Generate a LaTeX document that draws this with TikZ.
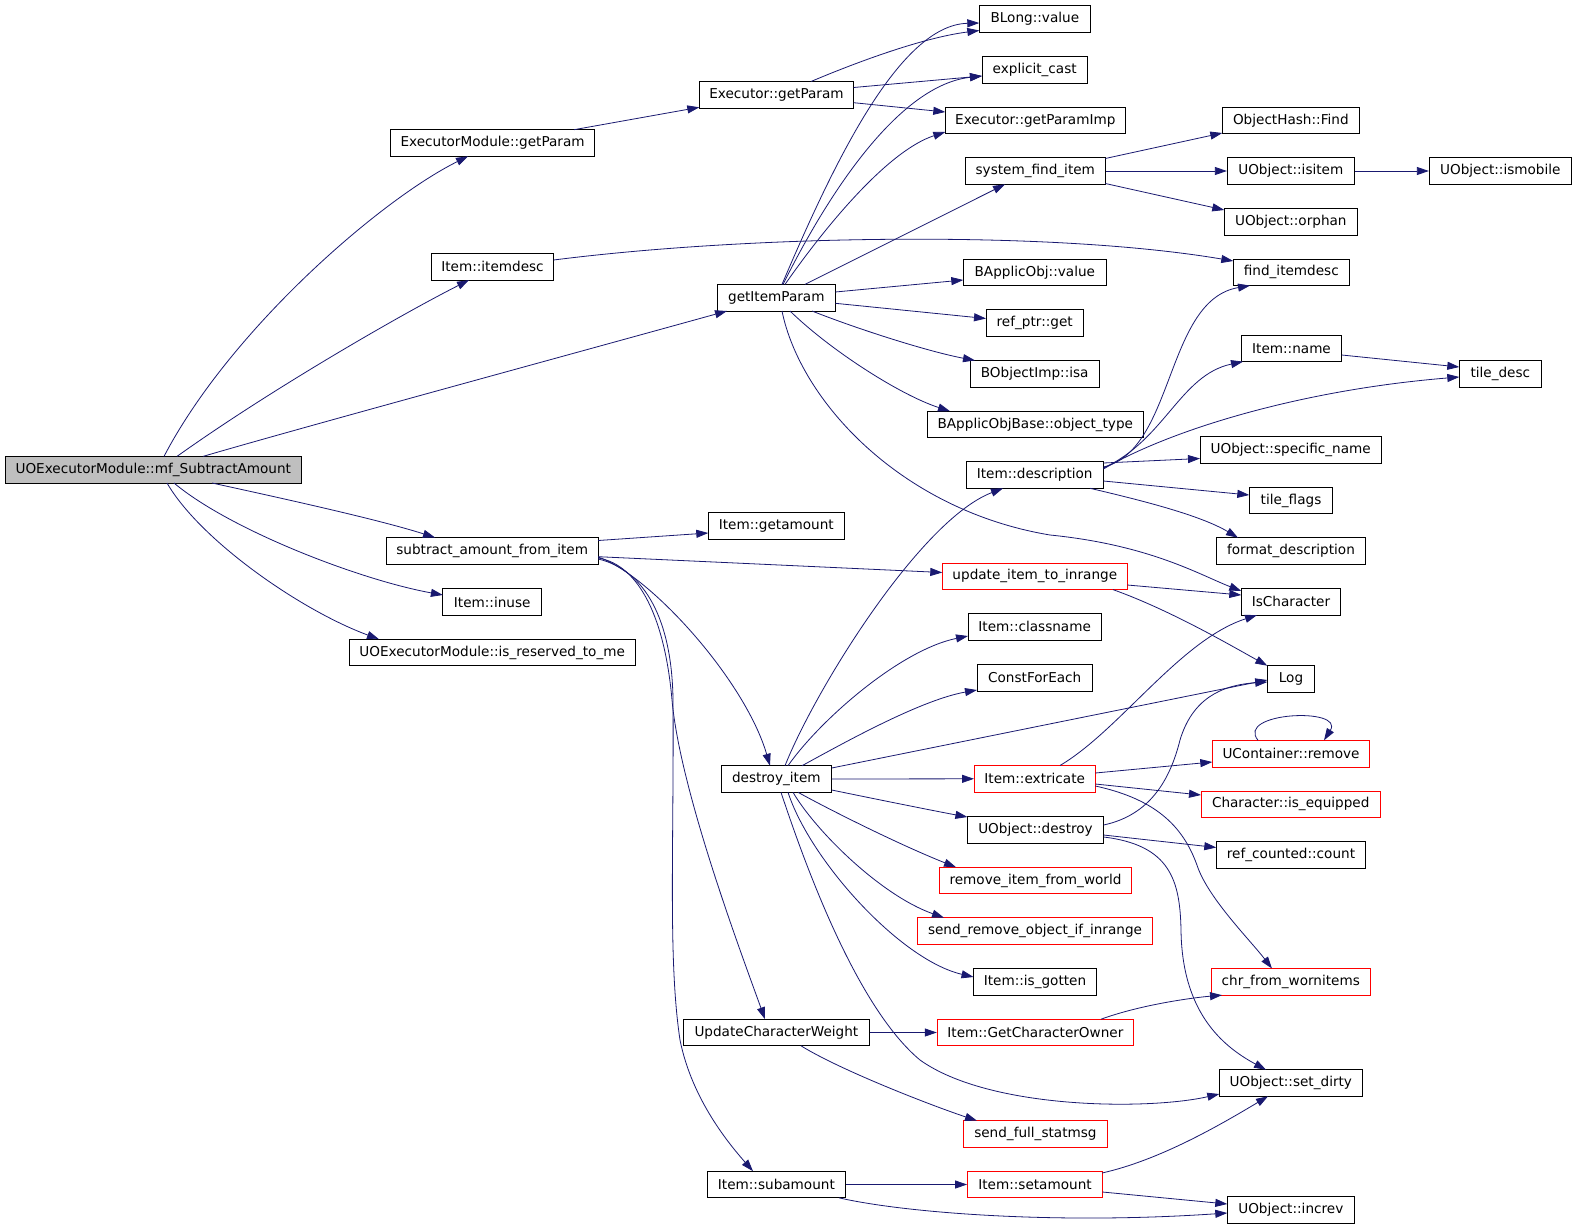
\documentclass[tikz,border=0pt]{standalone}
\usepackage{fontspec}
\setmainfont{DejaVu Sans}
\usetikzlibrary{arrows.meta}
\definecolor{navy}{HTML}{191970}
\definecolor{gfill}{HTML}{BFBFBF}
\begin{document}
\begin{tikzpicture}[x=1pt,y=-1pt,
  box/.style={draw=black,line width=0.9pt,minimum height=26.6pt,inner sep=0pt,font=\fontsize{13.6}{15}\selectfont},
  rbox/.style={box,draw=red},
  call/.style={draw=navy,line width=0.8pt,-{Triangle[length=12pt,width=8pt]}}]
\useasboundingbox (0,0) rectangle (1576,1228);
\fill[white] (0,0) rectangle (1576,1228);
% nodes
\node[box,minimum width=296pt,fill=gfill] (mf) at (153.3,469.7) {UOExecutorModule::mf\_SubtractAmount};
\node[box,minimum width=204pt] (emgp) at (492.6,143) {ExecutorModule::getParam};
\node[box,minimum width=122.3pt] (itemdesc) at (492.5,266.8) {Item::itemdesc};
\node[box,minimum width=118pt] (gip) at (776.3,297.7) {getItemParam};
\node[box,minimum width=212pt] (sub) at (492.2,550.8) {subtract\_amount\_from\_item};
\node[box,minimum width=98.6pt] (inuse) at (492.2,602) {Item::inuse};
\node[box,minimum width=286.2pt] (resv) at (492.2,652.5) {UOExecutorModule::is\_reserved\_to\_me};
\node[box,minimum width=154.4pt] (egp) at (776.5,94.8) {Executor::getParam};
\node[box,minimum width=111pt] (blong) at (1034.8,19) {BLong::value};
\node[box,minimum width=105.3pt] (ecast) at (1034.7,70) {explicit\_cast};
\node[box,minimum width=180pt] (egpi) at (1035.3,120.5) {Executor::getParamImp};
\node[box,minimum width=140pt] (sfi) at (1035.3,171) {system\_find\_item};
\node[box,minimum width=137pt] (ohf) at (1290.8,120.5) {ObjectHash::Find};
\node[box,minimum width=127pt] (isitem) at (1290.8,171) {UObject::isitem};
\node[box,minimum width=142pt] (ismob) at (1500.3,171) {UObject::ismobile};
\node[box,minimum width=133pt] (orphan) at (1290.8,222) {UObject::orphan};
\node[box,minimum width=116pt] (fid) at (1291.3,272.3) {find\_itemdesc};
\node[box,minimum width=143pt] (bav) at (1034.8,272.3) {BApplicObj::value};
\node[box,minimum width=97.3pt] (rpg) at (1034.7,322.8) {ref\_ptr::get};
\node[box,minimum width=129pt] (boi) at (1034.7,373.7) {BObjectImp::isa};
\node[box,minimum width=216pt] (bot) at (1035.3,424.5) {BApplicObjBase::object\_type};
\node[box,minimum width=100.4pt] (iname) at (1291.5,348.3) {Item::name};
\node[box,minimum width=82pt] (tdesc) at (1500.3,374) {tile\_desc};
\node[box,minimum width=137.3pt] (desc) at (1034.7,475) {Item::description};
\node[box,minimum width=181.3pt] (spec) at (1290.7,450) {UObject::specific\_name};
\node[box,minimum width=83.4pt] (tflags) at (1291,500.5) {tile\_flags};
\node[box,minimum width=149.4pt] (fdesc) at (1291,551) {format\_description};
\node[box,minimum width=136pt] (getam) at (776.3,525.8) {Item::getamount};
\node[rbox,minimum width=185pt] (uiti) at (1034.8,576.3) {update\_item\_to\_inrange};
\node[box,minimum width=99.4pt] (ischar) at (1291,601.8) {IsCharacter};
\node[box,minimum width=133.3pt] (cname) at (1034.7,626.8) {Item::classname};
\node[box,minimum width=115.3pt] (cfe) at (1034.7,677.7) {ConstForEach};
\node[box,minimum width=47.4pt] (log) at (1291,679) {Log};
\node[rbox,minimum width=157.4pt] (ucr) at (1291,753.8) {UContainer::remove};
\node[rbox,minimum width=121.3pt] (extr) at (1034.7,778.8) {Item::extricate};
\node[box,minimum width=110.7pt] (ditem) at (776.3,779) {destroy\_item};
\node[rbox,minimum width=179.3pt] (iseq) at (1290.7,804.3) {Character::is\_equipped};
\node[box,minimum width=136.2pt] (odes) at (1035.5,830) {UObject::destroy};
\node[box,minimum width=149.4pt] (rcc) at (1291,855) {ref\_counted::count};
\node[rbox,minimum width=192pt] (rifw) at (1035.5,880.5) {remove\_item\_from\_world};
\node[rbox,minimum width=235.3pt] (sroi) at (1035,931) {send\_remove\_object\_if\_inrange};
\node[box,minimum width=123pt] (igot) at (1035,982) {Item::is\_gotten};
\node[rbox,minimum width=159pt] (cfw) at (1290.8,981.8) {chr\_from\_wornitems};
\node[box,minimum width=186pt] (ucw) at (776.4,1032.5) {UpdateCharacterWeight};
\node[rbox,minimum width=196.3pt] (gco) at (1035.4,1032.5) {Item::GetCharacterOwner};
\node[box,minimum width=143pt] (sdirty) at (1290.8,1083) {UObject::set\_dirty};
\node[rbox,minimum width=144.3pt] (sfs) at (1035.4,1134) {send\_full\_statmsg};
\node[box,minimum width=137.8pt] (subam) at (776.4,1184.5) {Item::subamount};
\node[rbox,minimum width=135pt] (setam) at (1035,1184.5) {Item::setamount};
\node[box,minimum width=127pt] (increv) at (1290.8,1210) {UObject::increv};
% edges
\draw[call] ([shift={(10.7,-13.3)}]mf.center) .. controls (230,330) and (380,200) .. ([shift={(-24.6,13.3)}]emgp.center);
\draw[call] ([shift={(23.7,-13.3)}]mf.center) .. controls (270,390) and (400,315) .. ([shift={(-23.5,13.3)}]itemdesc.center);
\draw[call] ([shift={(49.7,-13.3)}]mf.center) .. controls (300,428) and (550,360) .. ([shift={(-49.3,13.3)}]gip.center);
\draw[call] ([shift={(58.7,13.3)}]mf.center) .. controls (290,500) and (380,520) .. ([shift={(-57.2,-13.3)}]sub.center);
\draw[call] ([shift={(20.7,13.3)}]mf.center) .. controls (230,530) and (360,580) .. ([shift={(-49.3,-7)}]inuse.center);
\draw[call] ([shift={(13.7,13.3)}]mf.center) .. controls (200,540) and (300,610) .. ([shift={(-113.2,-13.3)}]resv.center);
\draw[call] ([shift={(81.4,-13.3)}]emgp.center) -- ([shift={(-77.2,12.5)}]egp.center);
\draw[call] ([shift={(34.5,-13.3)}]egp.center) .. controls (850,65) and (920,38) .. ([shift={(-55.5,11.5)}]blong.center);
\draw[call] ([shift={(77.2,-7.3)}]egp.center) -- ([shift={(-52.7,6)}]ecast.center);
\draw[call] ([shift={(77.2,7.9)}]egp.center) -- ([shift={(-90,-8.5)}]egpi.center);
\draw[call] ([shift={(5.7,-13.3)}]gip.center) .. controls (835,160) and (900,25) .. ([shift={(-55.5,4)}]blong.center);
\draw[call] ([shift={(6.7,-13.3)}]gip.center) .. controls (830,190) and (900,85) .. ([shift={(-52.7,6)}]ecast.center);
\draw[call] ([shift={(8.7,-13.3)}]gip.center) .. controls (830,220) and (890,150) .. ([shift={(-90,11.5)}]egpi.center);
\draw[call] ([shift={(28.7,-13.3)}]gip.center) -- ([shift={(-30.3,13.3)}]sfi.center);
\draw[call] ([shift={(59,-5.7)}]gip.center) -- ([shift={(-71.5,7.7)}]bav.center);
\draw[call] ([shift={(59,5.6)}]gip.center) -- ([shift={(-48.7,-4.3)}]rpg.center);
\draw[call] ([shift={(35.7,13.3)}]gip.center) .. controls (860,330) and (930,352) .. ([shift={(-59.7,-13.3)}]boi.center);
\draw[call] ([shift={(13.7,13.3)}]gip.center) .. controls (830,350) and (900,395) .. ([shift={(-85.3,-13.3)}]bot.center);
\draw[call] ([shift={(5.7,13.3)}]gip.center) .. controls (800,400) and (900,510) .. (1050,535) .. controls (1150,545) and (1200,575) .. ([shift={(-49.7,-10.8)}]ischar.center);
\draw[call] ([shift={(61.2,-6.8)}]itemdesc.center) .. controls (750,235) and (1050,230) .. ([shift={(-58,-11.3)}]fid.center);
\draw[call] ([shift={(106,-10.3)}]sub.center) -- ([shift={(-68,7.2)}]getam.center);
\draw[call] ([shift={(106,5.9)}]sub.center) -- ([shift={(-92.5,-3.8)}]uiti.center);
\draw[call] ([shift={(106,6.2)}]sub.center) .. controls (650,575) and (745,680) .. ([shift={(-6.3,-13.3)}]ditem.center);
\draw[call] ([shift={(106,7.2)}]sub.center) .. controls (640,565) and (665,620) .. (672,700) .. controls (680,790) and (740,950) .. ([shift={(-11.4,-13.3)}]ucw.center);
\draw[call] ([shift={(106,8.2)}]sub.center) .. controls (645,570) and (672,620) .. (673,700) .. controls (674,850) and (668,960) .. (680,1040) .. controls (692,1100) and (730,1145) .. ([shift={(-23.4,-13.3)}]subam.center);
\draw[call] ([shift={(8.7,-13.3)}]ditem.center) .. controls (815,690) and (920,520) .. ([shift={(-31.7,13.3)}]desc.center);
\draw[call] ([shift={(11.7,-13.3)}]ditem.center) .. controls (820,720) and (900,650) .. ([shift={(-66.7,9.2)}]cname.center);
\draw[call] ([shift={(25.7,-13.3)}]ditem.center) .. controls (840,745) and (920,700) .. ([shift={(-57.7,12.3)}]cfe.center);
\draw[call] ([shift={(55.4,-11)}]ditem.center) -- ([shift={(-23.7,1)}]log.center);
\draw[call] ([shift={(55.4,0)}]ditem.center) -- ([shift={(-60.7,0)}]extr.center);
\draw[call] ([shift={(55.4,11)}]ditem.center) .. controls (880,800) and (940,812) .. ([shift={(-68.1,-13)}]odes.center);
\draw[call] ([shift={(21.7,13.3)}]ditem.center) .. controls (830,810) and (900,845) .. ([shift={(-79.5,-13.3)}]rifw.center);
\draw[call] ([shift={(16.7,13.3)}]ditem.center) .. controls (815,830) and (880,895) .. ([shift={(-91,-13.3)}]sroi.center);
\draw[call] ([shift={(11.7,13.3)}]ditem.center) .. controls (810,860) and (900,960) .. ([shift={(-61.5,-5)}]igot.center);
\draw[call] ([shift={(4.7,13.3)}]ditem.center) .. controls (810,880) and (860,1010) .. (920,1060) .. controls (990,1110) and (1150,1110) .. ([shift={(-71.5,11)}]sdirty.center);
\draw[call] ([shift={(68.7,-8)}]desc.center) .. controls (1175,450) and (1165,300) .. ([shift={(-41.3,13.3)}]fid.center);
\draw[call] ([shift={(68.7,-7)}]desc.center) .. controls (1165,440) and (1180,375) .. ([shift={(-48.5,13.3)}]iname.center);
\draw[call] ([shift={(68.7,-6)}]desc.center) .. controls (1170,430) and (1300,390) .. ([shift={(-41,3)}]tdesc.center);
\draw[call] ([shift={(68.7,-12)}]desc.center) -- ([shift={(-90.7,8.5)}]spec.center);
\draw[call] ([shift={(68.7,6)}]desc.center) -- ([shift={(-41.7,-5.5)}]tflags.center);
\draw[call] ([shift={(55.3,13.3)}]desc.center) .. controls (1140,500) and (1200,515) .. ([shift={(-53,-13.3)}]fdesc.center);
\draw[call] ([shift={(92.5,8.7)}]uiti.center) -- ([shift={(-49.7,-6.8)}]ischar.center);
\draw[call] ([shift={(78.2,13.3)}]uiti.center) .. controls (1170,610) and (1230,645) .. ([shift={(-23.7,-13.3)}]log.center);
\draw[call] ([shift={(25.3,-13.3)}]extr.center) .. controls (1120,730) and (1180,640) .. ([shift={(-34,13.3)}]ischar.center);
\draw[call] ([shift={(60.6,-5.8)}]extr.center) -- ([shift={(-78.7,8.2)}]ucr.center);
\draw[call] ([shift={(60.6,5.2)}]extr.center) -- ([shift={(-89.7,-9.3)}]iseq.center);
\draw[call] ([shift={(60.6,7.2)}]extr.center) .. controls (1160,800) and (1185,830) .. (1198,868) .. controls (1210,900) and (1250,940) .. ([shift={(-18.8,-13.3)}]cfw.center);
\draw[call] ([shift={(68.1,-5)}]odes.center) .. controls (1150,815) and (1170,780) .. (1180,740) .. controls (1192,700) and (1220,685) .. ([shift={(-23.7,3)}]log.center);
\draw[call] ([shift={(68.1,5)}]odes.center) -- ([shift={(-74.7,-7.5)}]rcc.center);
\draw[call] ([shift={(68.1,7)}]odes.center) .. controls (1170,845) and (1180,880) .. (1181,930) .. controls (1182,1010) and (1220,1045) .. ([shift={(-24.8,-13.3)}]sdirty.center);
\draw[call] ([shift={(65.6,-13.3)}]gco.center) .. controls (1140,1005) and (1190,998) .. ([shift={(-68.8,13.3)}]cfw.center);
\draw[call] (ucw.east) -- (gco.west);
\draw[call] ([shift={(24.6,13.3)}]ucw.center) .. controls (840,1070) and (930,1105) .. ([shift={(-58.4,-13.3)}]sfs.center);
\draw[call] (subam.east) -- (setam.west);
\draw[call] ([shift={(62.6,13.3)}]subam.center) .. controls (900,1212) and (1050,1225) .. ([shift={(-63.5,3)}]increv.center);
\draw[call] ([shift={(67,-11.5)}]setam.center) .. controls (1160,1160) and (1220,1125) .. ([shift={(-22.8,13.3)}]sdirty.center);
\draw[call] ([shift={(67.5,7.5)}]setam.center) -- ([shift={(-63.5,-6)}]increv.center);
\draw[call] ([shift={(70,-12.5)}]sfi.center) -- ([shift={(-68.5,12.5)}]ohf.center);
\draw[call] (sfi.east) -- (isitem.west);
\draw[call] ([shift={(70,12.5)}]sfi.center) -- ([shift={(-66.5,-12)}]orphan.center);
\draw[call] (isitem.east) -- (ismob.west);
\draw[call] ([shift={(50.2,6.7)}]iname.center) -- ([shift={(-41,-7)}]tdesc.center);
\draw[call] ([shift={(-33,-13.5)}]ucr.center) .. controls (1235,712) and (1345,707) .. ([shift={(33,-13.5)}]ucr.center);
\end{tikzpicture}
\end{document}
